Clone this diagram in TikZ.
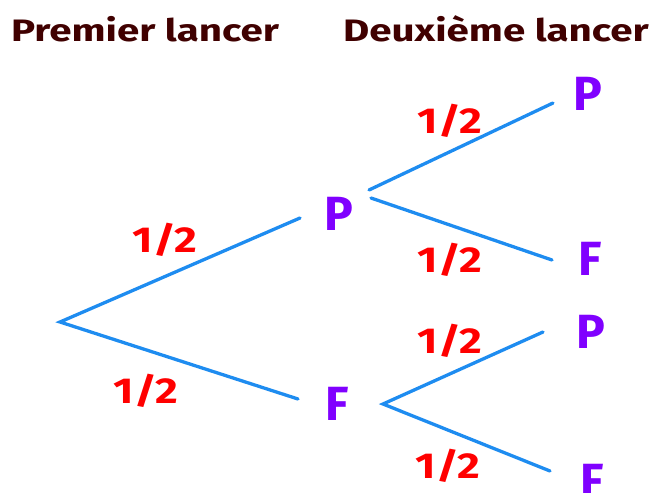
\documentclass[tikz,border=0pt]{standalone}
\usepackage{fontspec}
\setmainfont{Fira Sans}
\definecolor{titlec}{RGB}{64,0,0}
\definecolor{probc}{RGB}{255,0,0}
\definecolor{letc}{RGB}{128,0,255}
\definecolor{linec}{RGB}{30,140,240}
\newcommand{\widetitle}[1]{\scalebox{1.3}[1]{#1}}
\newcommand{\wideprob}[1]{\scalebox{1.22}[1]{#1}}
\begin{document}
\begin{tikzpicture}[x=1pt,y=-1pt,
  title/.style={anchor=base,inner sep=0pt,text=titlec,font=\fontsize{31}{31}\selectfont\bfseries},
  prob/.style={anchor=base,inner sep=0pt,text=probc,font=\fontsize{36}{36}\selectfont\bfseries},
  letter/.style={anchor=base,inner sep=0pt,text=letc,font=\fontsize{48}{48}\selectfont\bfseries},
  branch/.style={draw=linec,line width=3.3pt,line cap=round}]
\useasboundingbox (0,0) rectangle (654,493);
% titles
\node[title] (t1) at (145,41) {\widetitle{Premier lancer}};
\node[title] (t2) at (496,41) {\widetitle{Deuxième lancer}};
% outcomes
\node[letter] (P1) at (339,230) {P};
\node[letter] (F1) at (337,420) {F};
\node[letter] (PP) at (588,110) {P};
\node[letter] (PF) at (590,275) {F};
\node[letter] (FP) at (591,348) {P};
\node[letter] (FF) at (592,497) {F};
% branch points
\coordinate (r) at (60,322);
\coordinate (r1) at (300,218);
\coordinate (r2) at (298,399);
\coordinate (p0a) at (369,190);
\coordinate (p0b) at (371,198);
\coordinate (pp) at (553,103);
\coordinate (pf) at (552,260);
\coordinate (f0) at (383,404);
\coordinate (fp) at (543,332);
\coordinate (ff) at (550,471);
\draw[branch] (r1) -- (r) -- (r2);
\draw[branch] (p0a) -- (pp);
\draw[branch] (p0b) -- (pf);
\draw[branch] (fp) -- (f0) -- (ff);
% probabilities
\node[prob] (a1) at (165,252) {\wideprob{1/2}};
\node[prob] (a2) at (146,403) {\wideprob{1/2}};
\node[prob] (b1) at (450,133) {\wideprob{1/2}};
\node[prob] (b2) at (450,272) {\wideprob{1/2}};
\node[prob] (c1) at (450,353) {\wideprob{1/2}};
\node[prob] (c2) at (448,478) {\wideprob{1/2}};
\end{tikzpicture}
\end{document}
